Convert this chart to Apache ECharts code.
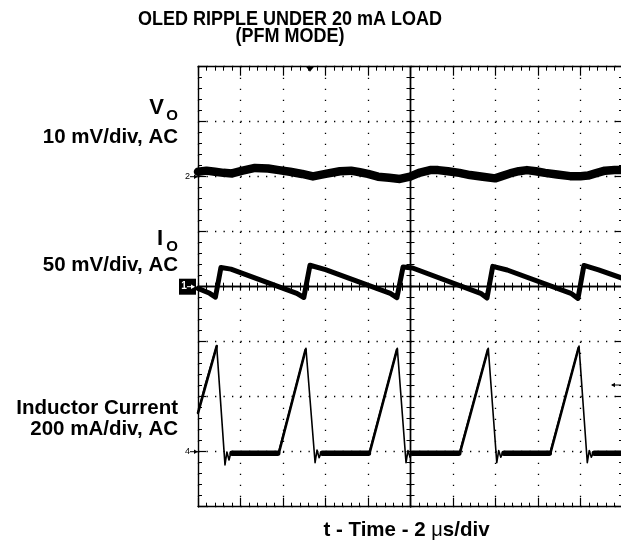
<!DOCTYPE html>
<html><head><meta charset="utf-8">
<script src="https://cdn.jsdelivr.net/npm/echarts@6/dist/echarts.min.js"></script>
<style>html,body{margin:0;padding:0;background:#fff}#c{width:621px;height:544px}</style>
</head><body><div id="c"></div>
<script>
// ---- text ----
const titleLines = ['OLED RIPPLE UNDER 20 mA LOAD', '(PFM MODE)'];
const xAxisTitle = 't - Time - 2 ';
const channelLabels = [
  { main: 'V', sub: 'O', scale: '10 mV/div, AC' },
  { main: 'I', sub: 'O', scale: '50 mV/div, AC' },
  { main: 'Inductor Current', sub: '', scale: '200 mA/div, AC' }
];
// ---- time axis (µs), 2 µs/div, 10 div ----
const timeMin = 0, timeMax = 20, timeStep = 2;
// ---- channel scales: units per div, baseline position in divisions above screen centre ----
const voScale = { perDiv: 10, zeroDiv: 2 };    // mV
const ioScale = { perDiv: 50, zeroDiv: 0 };    // mV
const ilScale = { perDiv: 200, zeroDiv: -3 };  // mA
const triggerTimeUs = 5.27;

// ---- traces: [time µs, value] ----
const voRipple_mV = [[0,0.9],[0.4,1.1],[0.8,0.9],[1.2,0.7],[1.6,0.6],[2.1,1.1],[2.68,1.6],[3.3,1.5],[3.8,1.2],[4.33,0.9],[4.9,0.5],[5.41,0.05],[6.0,0.5],[6.68,1.0],[7.2,1.1],[7.62,0.8],[8.0,0.5],[8.47,0.0],[9.0,-0.2],[9.5,-0.4],[9.98,0],[10.4,0.7],[10.92,1.2],[11.3,1.2],[11.76,1.0],[12.3,0.7],[12.8,0.3],[13.4,0.0],[13.98,-0.3],[14.3,0.1],[14.68,0.6],[15.1,1.0],[15.48,1.2],[15.9,1.0],[16.33,0.7],[16.9,0.4],[17.51,0.1],[18.0,0.1],[18.35,0.2],[18.7,0.6],[19.15,1.1],[19.6,1.2],[20,1.2]];
const ioRipple_mV = [[0,-1.5],[0.55,-6],[0.82,-9.5],[0.9,-9],[1.08,17.5],[1.55,16],[4.65,-6],[4.98,-9.8],[5.05,-9],[5.27,19.5],[6.0,15.5],[9.05,-6],[9.36,-10],[9.43,-9],[9.65,18],[10.1,17],[13.3,-6],[13.6,-10.3],[13.67,-9],[13.87,18.5],[14.55,15.2],[17.55,-6],[17.88,-10.7],[17.95,-9.5],[18.16,19.3],[18.85,15.2],[20,7.5]];
const inductorCurrent_mA = [[0,141],[0.33,242],[0.88,384],[1.27,-48],[1.36,-1],[1.46,-30],[1.55,-2],[1.65,-8],[3.78,-6],[5.08,376],[5.51,-40],[5.6,6],[5.7,-22],[5.8,-2],[5.9,-8],[8.05,-6],[9.38,376],[9.79,-40],[9.88,4],[9.98,-20],[10.08,-2],[10.18,-8],[12.30,-6],[13.66,376],[14.06,-40],[14.15,4],[14.25,-20],[14.35,-2],[14.45,-8],[16.56,-6],[17.93,384],[18.32,-40],[18.41,4],[18.51,-20],[18.61,-2],[18.71,-8],[20,-6]];
const inductorRampBand_mA = [[0,141],[0.88,384],[0.89,null],[3.8,-6],[5.06,370],[5.07,null],[8.07,-6],[9.36,370],[9.37,null],[12.32,-6],[13.64,370],[13.65,null],[16.58,-6],[17.91,378]];
const inductorIdleBand_mA = [[1.6,-6],[3.75,-6],[3.76,null],[5.85,-6],[8.02,-6],[8.03,null],[10.1,-6],[12.27,-6],[12.28,null],[14.4,-6],[16.53,-6],[16.54,null],[18.65,-6],[20,-6]];

const BLACK = '#000';
const FONT = '"Liberation Sans", Arial, sans-serif';

function frameX(position, offset, tickLen, minorLen, split) {
  return {
    type: 'value', min: timeMin, max: timeMax, interval: timeStep, position, offset,
    axisLine: { show: true, onZero: false, lineStyle: { color: BLACK, width: 1.4 } },
    axisTick: { show: true, inside: true, length: tickLen, lineStyle: { color: BLACK, width: 1.2 } },
    minorTick: { show: true, splitNumber: 5, length: minorLen, lineStyle: { color: BLACK, width: 1 } },
    axisLabel: { show: false },
    splitLine: { show: split, lineStyle: { color: BLACK, width: 1.3, type: [1.3, 9.7] } },
    minorSplitLine: { show: false }
  };
}
function chanRange(s) { return { min: (-4 - s.zeroDiv) * s.perDiv, max: (4 - s.zeroDiv) * s.perDiv, interval: s.perDiv }; }
function frameY(position, offset, tickLen, minorLen, split) {
  return Object.assign({
    type: 'value', position, offset,
    axisLine: { show: true, onZero: false, lineStyle: { color: BLACK, width: 1.4 } },
    axisTick: { show: true, inside: true, length: tickLen, lineStyle: { color: BLACK, width: 1.2 } },
    minorTick: { show: true, splitNumber: 5, length: minorLen, lineStyle: { color: BLACK, width: 1 } },
    axisLabel: { show: false },
    splitLine: { show: split, lineStyle: { color: BLACK, width: 1.3, type: [1.3, 7.2] } },
    minorSplitLine: { show: false }
  }, chanRange(ioScale));
}
function hiddenY(s) { return Object.assign({ type: 'value', show: false, position: 'left', axisLine: { onZero: false }, splitLine: { show: false } }, chanRange(s)); }

const GRID = { left: 198, top: 66.7, width: 425, height: 440 };
const chart = echarts.init(document.getElementById('c'), null, { renderer: 'canvas' });
const lineSeries = (name, yIdx, data, width, z) => ({
  type: 'line', name, xAxisIndex: 0, yAxisIndex: yIdx, data, symbol: 'none', showSymbol: false,
  connectNulls: false, silent: true, z, animation: false,
  lineStyle: { color: BLACK, width, join: 'round', cap: 'round' }
});
chart.setOption({
  animation: false,
  backgroundColor: '#fff',
  grid: Object.assign({ outerBoundsMode: 'none', containLabel: false }, GRID),
  xAxis: [
    frameX('bottom', 0, 9, 4, true),
    frameX('top', 0, 9, 4, false),
    frameX('bottom', -GRID.height / 2, 4, 4, false),
    frameX('top', -GRID.height / 2, 4, 4, false)
  ],
  yAxis: [
    frameY('left', 0, 8, 4, true),
    frameY('right', 0, 8, 4, false),
    frameY('left', -GRID.width / 2, 4, 4, false),
    frameY('right', -GRID.width / 2, 4, 4, false),
    hiddenY(voScale),
    hiddenY(ilScale)
  ],
  series: [
    lineSeries('Vo', 4, voRipple_mV, 8.5, 5),
    lineSeries('Io', 0, ioRipple_mV, 5, 5),
    lineSeries('IL', 5, inductorCurrent_mA, 1.6, 5),
    lineSeries('IL ramp', 5, inductorRampBand_mA, 2.6, 5),
    lineSeries('IL idle', 5, inductorIdleBand_mA, 5.5, 5)
  ]
});

// ---- annotations positioned through the axes ----
const gx = chart.convertToPixel({ xAxisIndex: 0 }, timeMin);
const gTop = chart.convertToPixel({ yAxisIndex: 0 }, chanRange(ioScale).max);
const centerX = chart.convertToPixel({ xAxisIndex: 0 }, (timeMin + timeMax) / 2);
const y2 = chart.convertToPixel({ yAxisIndex: 4 }, 0);
const y1 = chart.convertToPixel({ yAxisIndex: 0 }, 0);
const y4 = chart.convertToPixel({ yAxisIndex: 5 }, 0);
const tx = chart.convertToPixel({ xAxisIndex: 0 }, triggerTimeUs);

function txt(text, x, y, font, align, opts, fill) {
  return Object.assign({ type: 'text', x, y, silent: true, z: 100,
    style: { text, x: 0, y: 0, font, fill: fill || BLACK, textAlign: align, textVerticalAlign: 'middle' } }, opts || {});
}
function smallMarker(label, y) {
  return [
    txt(label, gx - 8, y, '9px ' + FONT, 'right'),
    { type: 'line', silent: true, z: 100, shape: { x1: gx - 8, y1: y, x2: gx, y2: y }, style: { stroke: BLACK, lineWidth: 1 } },
    { type: 'polygon', silent: true, z: 100, shape: { points: [[gx, y], [gx - 4, y - 2.2], [gx - 4, y + 2.2]] }, style: { fill: BLACK } }
  ];
}
const labelFont = 'bold 20.5px ' + FONT;
const g = [
  txt(titleLines[0], 290, 19, 'bold 18px ' + FONT, 'center', { scaleY: 1.12 }),
  txt(titleLines[1], 290, 36, 'bold 18px ' + FONT, 'center', { scaleY: 1.12 }),
  txt(channelLabels[0].main, 164, 108, 'bold 22px ' + FONT, 'right'),
  txt(channelLabels[0].sub, 178, 116, 'bold 15px ' + FONT, 'right'),
  txt(channelLabels[0].scale, 178, 137, labelFont, 'right'),
  txt(channelLabels[1].main, 163, 239, 'bold 22px ' + FONT, 'right'),
  txt(channelLabels[1].sub, 178, 247, 'bold 15px ' + FONT, 'right'),
  txt(channelLabels[1].scale, 178, 265, labelFont, 'right'),
  txt(channelLabels[2].main, 178, 408, labelFont, 'right'),
  txt(channelLabels[2].scale, 178, 429, labelFont, 'right'),
  {
    type: 'text', x: centerX - 4, y: 530, silent: true, z: 100,
    style: {
      text: '{b|' + xAxisTitle + '}{m|\u03bc}{b|s/div}', x: 0, y: 0, textAlign: 'center', textVerticalAlign: 'middle',
      rich: { b: { font: labelFont, fill: BLACK }, m: { font: '20px ' + FONT, fill: BLACK } }
    }
  },
  ...smallMarker('2', y2),
  ...smallMarker('4', y4),
  { type: 'rect', silent: true, z: 100, shape: { x: gx - 19, y: y1 - 8, width: 17, height: 16 }, style: { fill: BLACK } },
  Object.assign(txt('1', gx - 14, y1, 'bold 10px ' + FONT, 'center', null, '#fff'), { z: 101 }),
  { type: 'line', silent: true, z: 101, shape: { x1: gx - 11, y1: y1, x2: gx - 4, y2: y1 }, style: { stroke: '#fff', lineWidth: 1 } },
  { type: 'polygon', silent: true, z: 101, shape: { points: [[gx - 3, y1], [gx - 7, y1 - 2.2], [gx - 7, y1 + 2.2]] }, style: { fill: '#fff' } },
  { type: 'polygon', silent: true, z: 100, shape: { points: [[tx - 4, gTop], [tx + 4, gTop], [tx, gTop + 5]] }, style: { fill: BLACK } },
  { type: 'line', silent: true, z: 100, shape: { x1: 612, y1: 385, x2: 621, y2: 385 }, style: { stroke: BLACK, lineWidth: 1 } },
  { type: 'polygon', silent: true, z: 100, shape: { points: [[611, 385], [615, 382.8], [615, 387.2]] }, style: { fill: BLACK } }
];
chart.setOption({ graphic: g });
</script></body></html>
